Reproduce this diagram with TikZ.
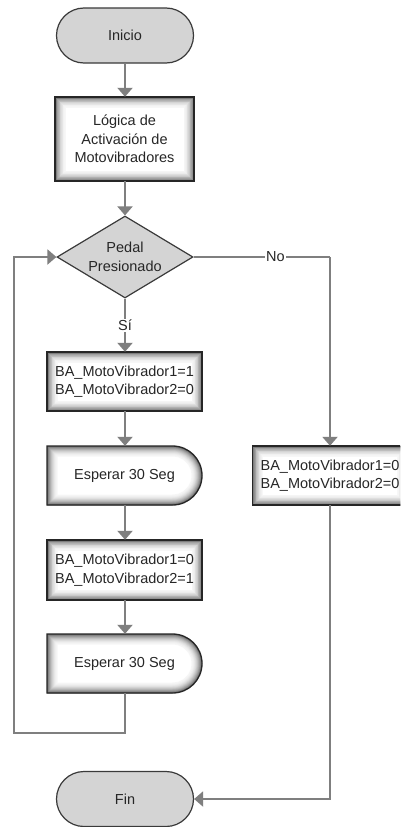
\documentclass[tikz,border=0pt]{standalone}
\usepackage{fontspec}
\setmainfont{Liberation Sans}
\usetikzlibrary{shapes.misc,shapes.geometric,arrows.meta}

\definecolor{linegray}{HTML}{7F7F7F}
\definecolor{termfill}{HTML}{D4D4D4}
\definecolor{edgegray}{HTML}{3A3A3A}
\definecolor{txt}{HTML}{262626}

% white box with a soft grey inner shadow and a dark outline
\newcommand\glowshape[1]{%
  \begin{scope}
    \clip #1;
    \fill[white] #1;
    \foreach \i in {1,...,14}{%
      \pgfmathsetmacro\wd{2*(15-\i)*0.75}%
      \pgfmathsetmacro\shade{3+55*(\i/14)^2}%
      \draw[line width=\wd pt,black!\shade] #1;}
  \end{scope}
  \draw[line width=1.3pt,black!85] #1;
}

\tikzset{
  flow/.style={draw=linegray, line width=2pt, -{Triangle[width=15pt,length=9pt]}},
  plain/.style={draw=linegray, line width=2pt},
  label/.style={fill=white, inner sep=1pt, text=txt, font=\fontsize{14.5}{17}\selectfont},
  txtnode/.style={inner sep=0pt, align=center, text=txt, font=\fontsize{14.5}{18.5}\selectfont},
  terminal/.style={rounded rectangle, minimum width=137pt, minimum height=55pt, inner sep=0pt,
    fill=termfill, draw=edgegray, line width=1.2pt, text=txt, font=\fontsize{14.5}{18.5}\selectfont},
  decision/.style={diamond, minimum width=136pt, minimum height=82pt, inner sep=0pt, aspect=1.66,
    fill=termfill, draw=edgegray, line width=1.2pt, align=center, text=txt, font=\fontsize{14.5}{18.5}\selectfont},
}

\begin{document}
\begin{tikzpicture}[x=1pt,y=1pt]
  \clip (0,0) rectangle (400,-827);
  \fill[white] (0,0) rectangle (400,-827);

  % shaded process and delay boxes
  \glowshape{(55,-97) rectangle (194,-181)}
  \glowshape{(47,-352) rectangle (202,-411)}
  \glowshape{(47,-446) -- (172.5,-446) arc[start angle=90,end angle=-90,radius=29.5] -- (47,-505) -- cycle}
  \glowshape{(47,-540) rectangle (202,-600)}
  \glowshape{(47,-634) -- (172.5,-634) arc[start angle=90,end angle=-90,radius=29.5] -- (47,-693) -- cycle}
  \glowshape{(252.5,-446) rectangle (407.5,-505)}

  % nodes
  \node[terminal] (ini) at (125,-35.5) {Inicio};
  \node[txtnode, minimum width=139pt, minimum height=84pt] (log) at (124.5,-139) {Lógica de\\Activación de\\Motovibradores};
  \node[decision] (dec) at (125,-257) {Pedal\\Presionado};
  \node[txtnode, minimum width=155pt, minimum height=59pt] (b1) at (124.5,-381.5) {BA\_MotoVibrador1=1\\BA\_MotoVibrador2=0};
  \node[txtnode, minimum width=155pt, minimum height=59pt] (e1) at (124.5,-475.5) {Esperar 30 Seg};
  \node[txtnode, minimum width=155pt, minimum height=60pt] (b2) at (124.5,-570) {BA\_MotoVibrador1=0\\BA\_MotoVibrador2=1};
  \node[txtnode, minimum width=155pt, minimum height=59pt] (e2) at (124.5,-663.5) {Esperar 30 Seg};
  \node[txtnode, minimum width=155pt, minimum height=59pt] (rb) at (330,-475.5) {BA\_MotoVibrador1=0\\BA\_MotoVibrador2=0};
  \node[terminal] (fin) at (125,-799) {Fin};

  % connectors
  \coordinate (noturn) at (330,-257);
  \coordinate (loopB) at (14,-733);
  \coordinate (loopA) at (e2.south |- loopB);

  \draw[flow] (ini.south) -- (log.north -| ini.south);
  \draw[flow] (log.south -| ini.south) -- (dec.north);
  \draw[flow] (dec.south) -- node[label]{Sí} (b1.north -| dec.south);
  \draw[flow] (b1.south -| dec.south) -- (e1.north -| dec.south);
  \draw[flow] (e1.south -| dec.south) -- (b2.north -| dec.south);
  \draw[flow] (b2.south -| dec.south) -- (e2.north -| dec.south);
  \draw[flow] (e2.south) -- (loopA) -- (loopB) |- (dec.west);
  \draw[plain] (dec.east) -- node[label, pos=0.6]{No} (noturn);
  \draw[flow] (noturn) -- (rb.north);
  \draw[flow] (rb.south) |- (fin.east);
\end{tikzpicture}
\end{document}
